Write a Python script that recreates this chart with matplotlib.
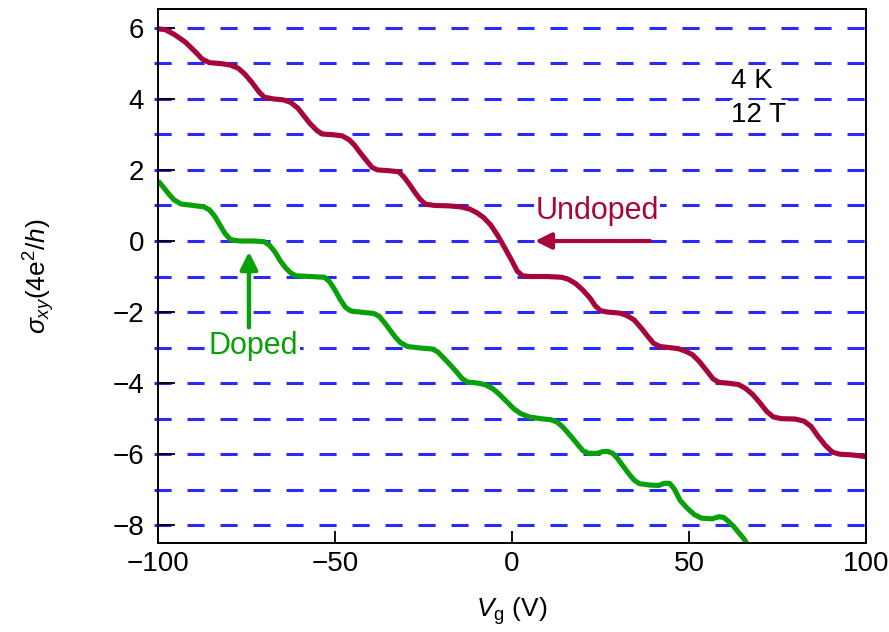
import matplotlib
matplotlib.use('Agg')
import matplotlib.pyplot as plt

plt.rcParams['font.family'] = ['Liberation Sans', 'DejaVu Sans']
plt.rcParams['mathtext.fontset'] = 'custom'
plt.rcParams['mathtext.rm'] = 'Liberation Sans'
plt.rcParams['mathtext.it'] = 'Liberation Sans:italic'

# Undoped sample
undoped_vg = [-100, -98, -95.5, -92.3, -89.5, -87.5, -85.5, -82, -79.5, -77.3,
              -75.5, -73.6, -71.5, -70, -67.5, -64.5, -62.5, -60.5, -59, -57,
              -55, -53.5, -50.5, -48, -46, -44.5, -43, -41, -39.5, -38,
              -35, -32, -30.5, -29, -27.5, -26, -24.5, -22, -18, -14.5,
              -12, -10, -8, -6, -4, -2, 0, 1.5, 3, 5,
              10, 14, 16, 18, 20, 22, 23.5, 25, 27, 30.5,
              32.5, 34.5, 36.5, 38.5, 40, 41.8, 44.5, 47, 49, 51,
              53, 55, 56.8, 58.5, 61, 64, 66, 68, 70, 72,
              73.8, 76, 80, 82.5, 84.5, 86.5, 88.5, 90.5, 92.5, 96, 100]
undoped_sxy = [5.97, 5.95, 5.82, 5.6, 5.33, 5.12, 5.02, 4.99, 4.95, 4.86,
               4.7, 4.48, 4.2, 4.05, 4.0, 3.97, 3.9, 3.74, 3.55, 3.3,
               3.1, 3.01, 2.99, 2.96, 2.85, 2.7, 2.5, 2.25, 2.07, 2.0,
               1.98, 1.95, 1.8, 1.6, 1.38, 1.18, 1.04, 1.0, 0.99, 0.96,
               0.9, 0.8, 0.66, 0.45, 0.15, -0.2, -0.56, -0.85, -0.98, -1.0,
               -1.0, -1.02, -1.08, -1.2, -1.38, -1.6, -1.82, -1.96, -2.0, -2.03,
               -2.1, -2.22, -2.45, -2.7, -2.88, -2.97, -3.0, -3.03, -3.1, -3.2,
               -3.4, -3.65, -3.88, -3.98, -4.0, -4.04, -4.15, -4.32, -4.55, -4.8,
               -4.95, -5.0, -5.01, -5.07, -5.22, -5.5, -5.75, -5.94, -6.0, -6.02, -6.07]

# Doped sample
doped_vg = [-100, -98.5, -97, -95.5, -93.5, -90, -87, -85.5, -84, -82.5,
            -81, -79.5, -77, -73, -70, -68.5, -67, -65.5, -64, -62.5,
            -61, -57, -53, -51.5, -50, -48.5, -47, -45.5, -42, -39,
            -37.5, -36, -34.5, -33, -31.5, -29.5, -26, -22.5, -21, -19.5,
            -17.5, -15.5, -14, -12.5, -9.5, -7.5, -5.5, -3.5, -1.5, 0.5,
            2.5, 4.8, 8, 11, 12.8, 14.5, 16.5, 18.5, 20, 21.5,
            24, 25.5, 27, 28.5, 29.8, 31.5, 33, 34.5, 36, 39,
            41.5, 43, 44.5, 45.8, 47.5, 49.5, 51.5, 53.5, 56.5, 58.5,
            59.8, 61, 62.5, 64, 65.5, 67]
doped_sxy = [1.69, 1.52, 1.33, 1.16, 1.04, 1.0, 0.96, 0.88, 0.7, 0.45,
             0.2, 0.04, 0.0, 0.0, -0.02, -0.12, -0.3, -0.55, -0.75, -0.9,
             -0.98, -1.0, -1.02, -1.15, -1.38, -1.65, -1.87, -1.97, -2.01, -2.04,
             -2.12, -2.3, -2.5, -2.7, -2.86, -2.97, -3.01, -3.04, -3.12, -3.27,
             -3.48, -3.7, -3.88, -3.97, -4.0, -4.05, -4.15, -4.32, -4.52, -4.72,
             -4.86, -4.95, -5.0, -5.03, -5.1, -5.25, -5.48, -5.72, -5.9, -5.97,
             -5.98, -5.93, -5.92, -5.98, -6.12, -6.35, -6.55, -6.73, -6.83, -6.87,
             -6.88, -6.82, -6.82, -6.97, -7.3, -7.52, -7.7, -7.8, -7.82, -7.76,
             -7.78, -7.88, -8.02, -8.2, -8.38, -8.62]

plateaus = list(range(-8, 7))
xticks = [-100, -50, 0, 50, 100]
yticks = [-8, -6, -4, -2, 0, 2, 4, 6]

red = '#a6063c'
green = '#0aa00a'
blue = '#2a2aff'

fig = plt.figure(figsize=(8.89, 6.32), dpi=100)
ax = fig.add_axes([0.1777, 0.1408, 0.7964, 0.845])

# dashed lines at each integer value
for p in plateaus:
    ln = ax.axhline(p, xmin=-0.005, xmax=1.004, color=blue, lw=2.2,
                    clip_on=False, zorder=1)
    ln.set_dashes([5.6, 5.2])

ax.plot(undoped_vg, undoped_sxy, color=red, lw=3.7, zorder=3,
        solid_joinstyle='round', solid_capstyle='butt')
ax.plot(doped_vg, doped_sxy, color=green, lw=3.7, zorder=3,
        solid_joinstyle='round', solid_capstyle='butt')

ax.set_xlim(-100, 100)
ax.set_ylim(-8.5, 6.53)
ax.set_xticks(xticks)
ax.set_yticks(yticks)
ax.set_xticklabels([str(t).replace('-', '\u2212') for t in xticks])
ax.set_yticklabels([str(t).replace('-', '\u2212') for t in yticks])
ax.tick_params(axis='x', direction='in', length=8.5, width=1.3,
               labelsize=20, pad=6)
ax.tick_params(axis='y', direction='in', length=12, width=1.3,
               labelsize=20, pad=10)
for s in ax.spines.values():
    s.set_linewidth(1.4)
    s.set_zorder(4)

ax.set_xlabel(r'$V_{\mathrm{g}}$ (V)', fontsize=19, labelpad=13)
ax.set_ylabel(r'$\sigma_{xy}$(4e$^2$/$h$)', fontsize=19, labelpad=40)

# annotations
wbox = dict(facecolor='white', edgecolor='none', pad=1)
ax.text(62, 4.5, '4 K', fontsize=20, va='center', ha='left', bbox=wbox, zorder=2)
ax.text(62, 3.55, '12 T', fontsize=20, va='center', ha='left', bbox=wbox, zorder=2)

ax.annotate('', xy=(6.5, 0), xytext=(39, 0),
            arrowprops=dict(arrowstyle='-|>', color=red, lw=3,
                            mutation_scale=24, shrinkA=0, shrinkB=0))
ax.text(24, 0.85, 'Undoped', color=red, fontsize=22, ha='center',
        va='center', bbox=wbox, zorder=2)

ax.annotate('', xy=(-74.3, -0.3), xytext=(-74.3, -2.43),
            arrowprops=dict(arrowstyle='-|>', color=green, lw=3.2,
                            mutation_scale=26, shrinkA=0, shrinkB=0))
ax.text(-73, -2.95, 'Doped', color=green, fontsize=22, ha='center',
        va='center', bbox=wbox, zorder=2)

fig.savefig('out.png', dpi=100)
